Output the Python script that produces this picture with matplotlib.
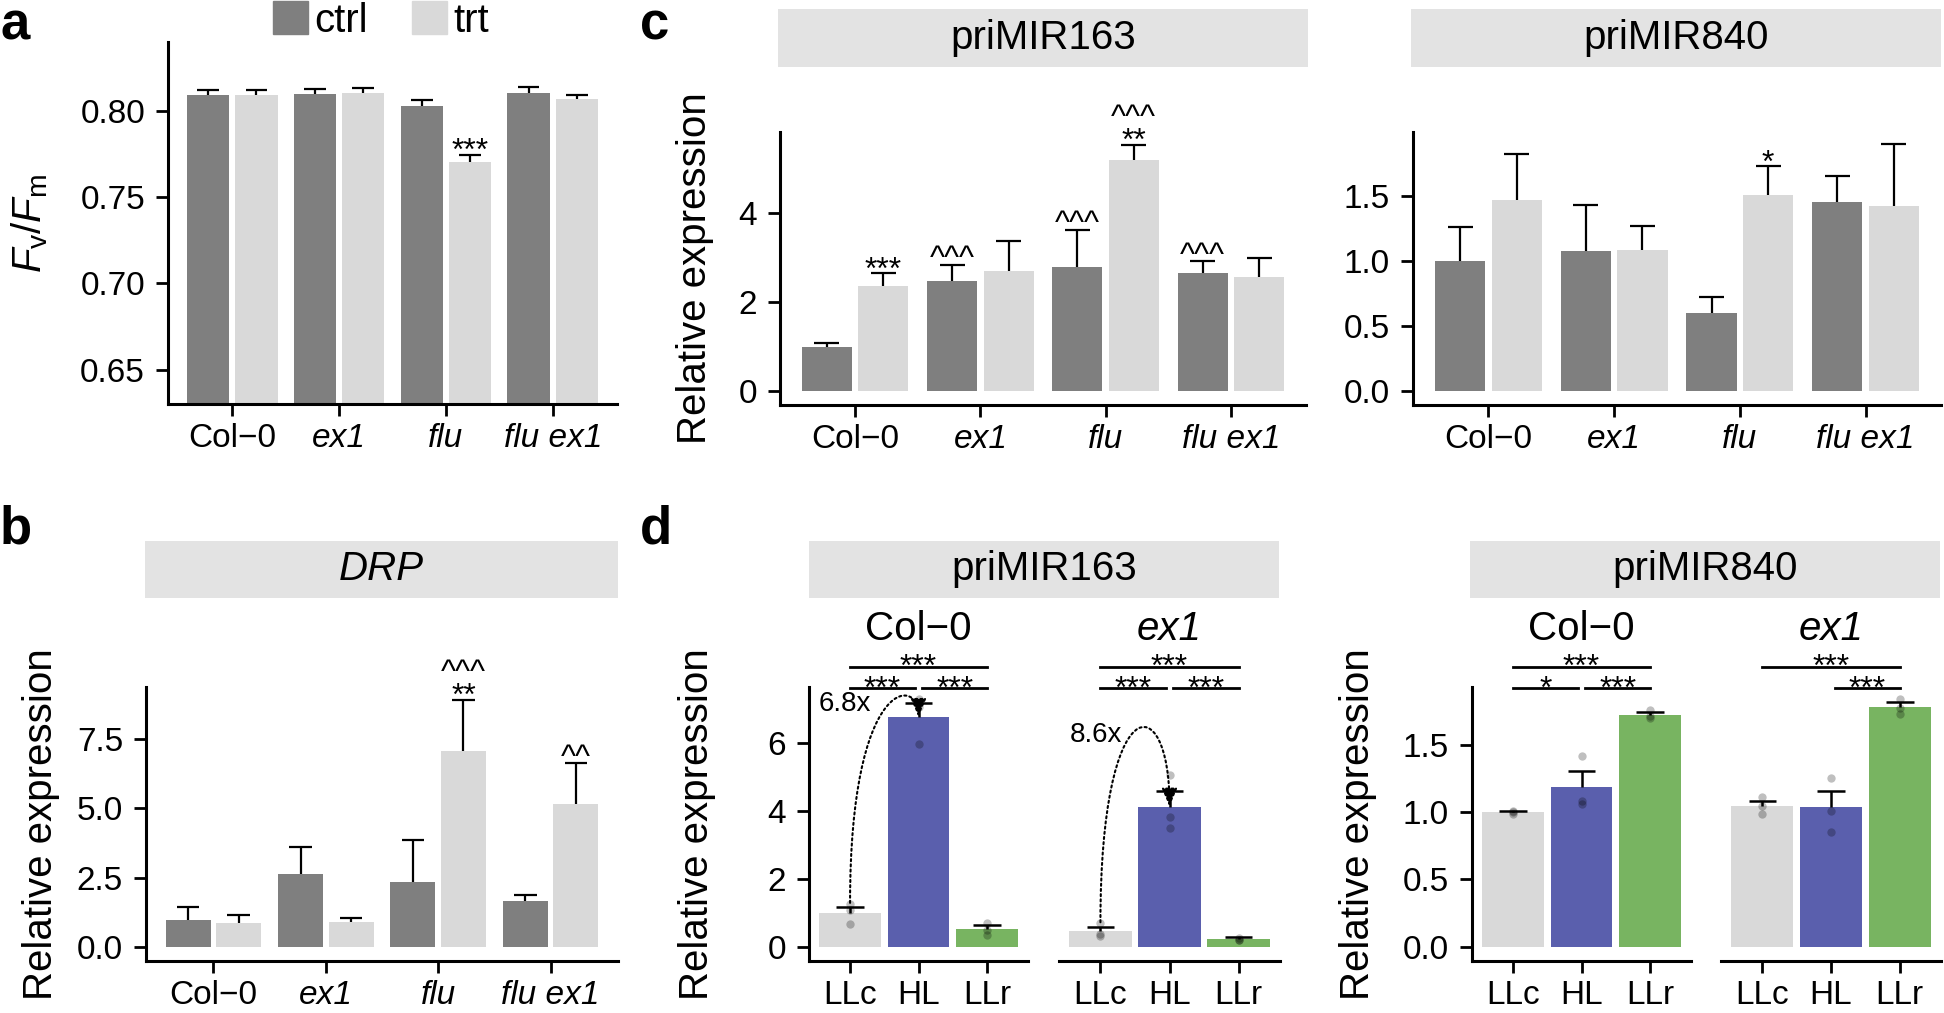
import numpy as np
import matplotlib
matplotlib.use('Agg')
import matplotlib.pyplot as plt
import matplotlib.transforms as mtransforms
from matplotlib.path import Path
from matplotlib.patches import FancyArrowPatch, Patch

plt.rcParams['font.family'] = ['Liberation Sans', 'DejaVu Sans']
plt.rcParams['mathtext.fontset'] = 'custom'
plt.rcParams['mathtext.rm'] = 'Liberation Sans'
plt.rcParams['mathtext.it'] = 'Liberation Sans:italic'

# ---- data ----
genotypes = ['Col−0', 'ex1', 'flu', 'flu ex1']
series = ['ctrl', 'trt']

# panel a: Fv/Fm (mean, SE)
fvfm_ctrl = [0.809, 0.8097, 0.803, 0.8106]
fvfm_ctrl_se = [0.003, 0.003, 0.0034, 0.0033]
fvfm_trt = [0.809, 0.8106, 0.7706, 0.8068]
fvfm_trt_se = [0.003, 0.0025, 0.0039, 0.0025]
sig_a = [(2, 1, ['***'])]

# panel b: DRP
drp_ctrl = [0.97, 2.62, 2.33, 1.65]
drp_ctrl_se = [0.45, 1.0, 1.53, 0.2]
drp_trt = [0.87, 0.88, 7.09, 5.15]
drp_trt_se = [0.28, 0.15, 1.83, 1.48]
sig_b = [(2, 1, ['**', '^^^']), (3, 1, ['^^'])]

# panel c: priMIR163 / priMIR840
mir163_ctrl = [1.0, 2.47, 2.79, 2.64]
mir163_ctrl_se = [0.09, 0.36, 0.82, 0.27]
mir163_trt = [2.35, 2.70, 5.18, 2.55]
mir163_trt_se = [0.29, 0.67, 0.34, 0.43]
sig_c163 = [(0, 1, ['***']), (1, 0, ['^^^']), (2, 0, ['^^^']),
            (2, 1, ['**', '^^^']), (3, 0, ['^^^'])]

mir840_ctrl = [1.0, 1.071, 0.596, 1.451]
mir840_ctrl_se = [0.256, 0.36, 0.124, 0.198]
mir840_trt = [1.469, 1.079, 1.508, 1.418]
mir840_trt_se = [0.355, 0.19, 0.218, 0.48]
sig_c840 = [(2, 1, ['*'])]

# panel d: light conditions, individual replicates + SE
conditions = ['LLc', 'HL', 'LLr']
d163_col_pts = [[1.25, 0.68, 1.07], [7.28, 5.96, 7.04], [0.71, 0.34, 0.48]]
d163_col_se = [0.16, 0.42, 0.13]
d163_ex1_pts = [[0.69, 0.36, 0.33], [5.05, 3.82, 3.50], [0.25, 0.20, 0.21]]
d163_ex1_se = [0.13, 0.47, 0.06]
d840_col_pts = [[1.01, 0.99, 1.0], [1.42, 1.08, 1.06], [1.756, 1.70, 1.716]]
d840_col_se = [0.01, 0.12, 0.02]
d840_ex1_pts = [[1.11, 0.985, 1.045], [1.253, 1.012, 0.856], [1.841, 1.731, 1.771]]
d840_ex1_se = [0.037, 0.116, 0.037]
fold_labels = ['6.8x', '8.6x']
br_163 = [(0, 2, '***', 1), (0, 1, '***', 0), (1, 2, '***', 0)]
br_840_col = [(0, 2, '***', 1), (0, 1, '*', 0), (1, 2, '***', 0)]
br_840_ex1 = [(0, 2, '***', 1), (1, 2, '***', 0)]

# ---- style ----
dark = '#7f7f7f'
light = '#d9d9d9'
blue = '#5a5fad'
green = '#78b461'
strip_col = '#e3e3e3'
cond_colors = [light, blue, green]
TICK_FS = 24
BIG_FS = 29
SIG_FS = 23

W, H = 1944, 1013
fig = plt.figure(figsize=(W / 100, H / 100), dpi=100)


def box(x0, x1, y0, y1):
    return [x0 / W, 1 - y1 / H, (x1 - x0) / W, (y1 - y0) / H]


def base_style(ax, yticks, fmt, ylim):
    for s in ['top', 'right']:
        ax.spines[s].set_visible(False)
    for s in ['left', 'bottom']:
        ax.spines[s].set_linewidth(2.2)
    ax.set_yticks(yticks)
    ax.set_yticklabels([fmt.format(v) for v in yticks])
    ax.set_ylim(ylim)
    ax.tick_params(axis='both', length=8.5, width=2, labelsize=TICK_FS)
    ax.tick_params(axis='y', pad=8)
    ax.tick_params(axis='x', pad=5)


def strip(x0, x1, y0, y1, label, italic=False):
    s = fig.add_axes(box(x0, x1, y0, y1))
    s.set_facecolor(strip_col)
    for sp in s.spines.values():
        sp.set_visible(False)
    s.set_xticks([])
    s.set_yticks([])
    s.text(0.5, 0.5, label, ha='center', va='center', fontsize=BIG_FS,
           style='italic' if italic else 'normal', transform=s.transAxes)


def sig_text(ax, x, y, labels):
    # labels listed bottom to top; one text block, anchored at the bottom line's baseline
    glyph = 0.43 if '*' in labels[0] else 0.33
    base = 6.0 - glyph * SIG_FS
    ax.annotate('\n'.join(reversed(labels)), (x, y), xytext=(0, base),
                textcoords='offset points', ha='center', va='baseline',
                fontsize=SIG_FS, linespacing=0.76, annotation_clip=False)


def grouped(ax, ctrl, ctrl_se, trt, trt_se, sig, yticks, fmt, ylim):
    x = np.arange(len(genotypes))
    tops = []
    for off, m, se, col in [(-0.225, ctrl, ctrl_se, dark), (0.225, trt, trt_se, light)]:
        m = np.array(m)
        top = m + np.array(se)
        ax.bar(x + off, m, width=0.4, color=col, zorder=1)
        ax.vlines(x + off, m, top, color='black', lw=1.6, zorder=2)
        ax.hlines(top, x + off - 0.1, x + off + 0.1, color='black', lw=1.6, zorder=2)
        tops.append(top)
    for gi, si, labels in sig:
        sig_text(ax, gi + (-0.225 if si == 0 else 0.225), tops[si][gi], labels)
    ax.set_xlim(-0.6, 3.6)
    ax.set_xticks(x)
    ax.set_xticklabels(genotypes)
    for lbl, g in zip(ax.get_xticklabels(), genotypes):
        if g != 'Col−0':
            lbl.set_style('italic')
    base_style(ax, yticks, fmt, ylim)


def facet(ax, pts, se, brackets, title, italic, yticks, fmt, ylim, show_y, fold=None):
    x = np.arange(len(conditions))
    means = np.array([np.mean(p) for p in pts])
    top = means + np.array(se)
    ax.bar(x, means, width=0.9, color=cond_colors, zorder=1)
    for i, p in enumerate(pts):
        ax.scatter([i] * len(p), p, s=36, color='black', alpha=0.25, lw=0, zorder=3)
    ax.vlines(x, means, top, color='black', lw=1.8, zorder=4)
    ax.hlines(top, x - 0.2, x + 0.2, color='black', lw=1.8, zorder=4)
    ax.set_xlim(-0.6, 2.6)
    ax.set_xticks(x)
    ax.set_xticklabels(conditions)
    base_style(ax, yticks, fmt, ylim)
    if not show_y:
        ax.spines['left'].set_visible(False)
        ax.tick_params(axis='y', left=False, labelleft=False)
    ax.text(0.5, 1.1715, title, transform=ax.transAxes, ha='center', va='baseline',
            fontsize=BIG_FS, style='italic' if italic else 'normal')
    tr = mtransforms.blended_transform_factory(ax.transData, ax.transAxes)
    for i, j, lbl, lev in brackets:
        y = 1.074 if lev == 1 else 0.995
        x0 = i + (0.055 if i == 1 else 0)
        x1 = j - (0.055 if j == 1 else 0)
        ax.plot([x0, x1], [y, y], color='black', lw=2, transform=tr, clip_on=False)
        ax.annotate(lbl, ((x0 + x1) / 2, y), xycoords=tr, xytext=(0, 3 - 0.43 * SIG_FS),
                    textcoords='offset points', ha='center', va='baseline',
                    fontsize=SIG_FS, annotation_clip=False)
    if fold is not None:
        label, ctrl_h = fold
        y0 = top[0] + 0.13
        y1 = means[1]
        verts = [(0, y0), (0, ctrl_h), (1, ctrl_h), (1, y1)]
        path = Path(verts, [Path.MOVETO, Path.CURVE4, Path.CURVE4, Path.CURVE4])
        arr = FancyArrowPatch(path=path, arrowstyle='-|>,head_length=1.1,head_width=0.47',
                              mutation_scale=10, lw=1.5, linestyle=(0, (1, 1.5)),
                              color='black', zorder=5, clip_on=False)
        ax.add_patch(arr)
        t = np.linspace(0, 1, 200)
        by = ((1 - t) ** 3 * y0 + 3 * (1 - t) ** 2 * t * ctrl_h
              + 3 * (1 - t) * t ** 2 * ctrl_h + t ** 3 * y1)
        ax.text(0.31, by.max() - 0.22, label, ha='right', va='center', fontsize=20)


# ---- panel a ----
ax_a = fig.add_axes(box(168, 617, 42, 404))
grouped(ax_a, fvfm_ctrl, fvfm_ctrl_se, fvfm_trt, fvfm_trt_se, sig_a,
        [0.65, 0.70, 0.75, 0.80], '{:.2f}', (0.630, 0.840))
fig.text(30 / W, 1 - 223 / H, r'$F_{\mathrm{v}}/F_{\mathrm{m}}$', rotation=90,
         ha='center', va='center', fontsize=BIG_FS)
fig.legend(handles=[Patch(color=dark), Patch(color=light)], labels=series,
           loc='center', bbox_to_anchor=(381 / W, 1 - 20.5 / H), ncol=2, frameon=False,
           fontsize=BIG_FS, handlelength=0.86, handleheight=0.86, handletextpad=0.16,
           columnspacing=1.09, borderpad=0, borderaxespad=0)

# ---- panel b ----
ax_b = fig.add_axes(box(146, 618, 687, 961))
grouped(ax_b, drp_ctrl, drp_ctrl_se, drp_trt, drp_trt_se, sig_b,
        [0, 2.5, 5, 7.5], '{:.1f}', (-0.52, 9.39))
strip(145, 618, 541, 598, 'DRP', italic=True)
fig.text(41 / W, 1 - 824 / H, 'Relative expression', rotation=90,
         ha='center', va='center', fontsize=BIG_FS)

# ---- panel c ----
ax_c1 = fig.add_axes(box(780, 1306, 132, 405))
grouped(ax_c1, mir163_ctrl, mir163_ctrl_se, mir163_trt, mir163_trt_se, sig_c163,
        [0, 2, 4], '{:.0f}', (-0.31, 5.81))
strip(778, 1308, 9, 67, 'priMIR163')
fig.text(695 / W, 1 - 268 / H, 'Relative expression', rotation=90,
         ha='center', va='center', fontsize=BIG_FS)

ax_c2 = fig.add_axes(box(1413, 1941, 132, 405))
grouped(ax_c2, mir840_ctrl, mir840_ctrl_se, mir840_trt, mir840_trt_se, sig_c840,
        [0, 0.5, 1.0, 1.5], '{:.1f}', (-0.11, 1.99))
strip(1411, 1941, 9, 67, 'priMIR840')

# ---- panel d ----
ax_d1 = fig.add_axes(box(809, 1028, 687, 961))
facet(ax_d1, d163_col_pts, d163_col_se, br_163, 'Col−0', False,
      [0, 2, 4, 6], '{:.0f}', (-0.42, 7.64), True, (fold_labels[0], 7.95))
ax_d2 = fig.add_axes(box(1059, 1280, 687, 961))
facet(ax_d2, d163_ex1_pts, d163_ex1_se, br_163, 'ex1', True,
      [0, 2, 4, 6], '{:.0f}', (-0.42, 7.64), False, (fold_labels[1], 7.65))
strip(809, 1279, 541, 598, 'priMIR163')
fig.text(697 / W, 1 - 824 / H, 'Relative expression', rotation=90,
         ha='center', va='center', fontsize=BIG_FS)

ax_d3 = fig.add_axes(box(1472, 1691, 687, 961))
facet(ax_d3, d840_col_pts, d840_col_se, br_840_col, 'Col−0', False,
      [0, 0.5, 1.0, 1.5], '{:.1f}', (-0.106, 1.93), True)
ax_d4 = fig.add_axes(box(1721, 1941, 687, 961))
facet(ax_d4, d840_ex1_pts, d840_ex1_se, br_840_ex1, 'ex1', True,
      [0, 0.5, 1.0, 1.5], '{:.1f}', (-0.106, 1.93), False)
strip(1470, 1940, 541, 598, 'priMIR840')
fig.text(1358 / W, 1 - 824 / H, 'Relative expression', rotation=90,
         ha='center', va='center', fontsize=BIG_FS)

# panel letters
for lbl, px, py in [('a', 0, 0), ('c', 640, 0)]:
    fig.text(px / W, 1 - py / H, lbl, ha='left', va='top', fontsize=38,
             fontweight='bold')
for lbl, px, py in [('b', 0, 543), ('d', 640, 543)]:
    fig.text(px / W, 1 - py / H, lbl, ha='left', va='baseline', fontsize=38,
             fontweight='bold')

fig.savefig('out.png', dpi=100)
